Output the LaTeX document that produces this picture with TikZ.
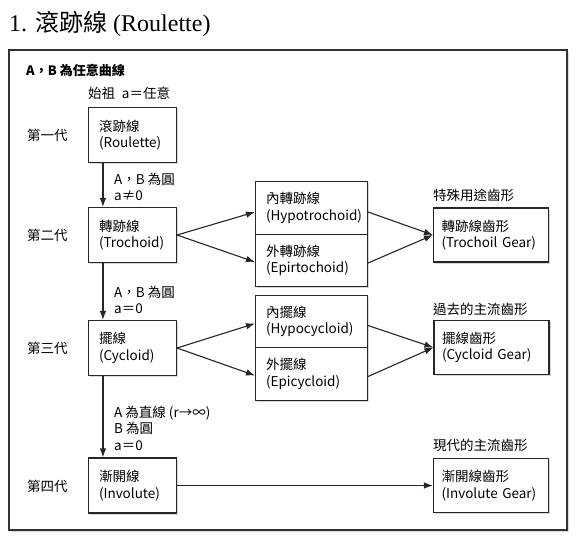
\documentclass[tikz,border=0pt]{standalone}
\usepackage{fontspec}
\setmainfont{Liberation Serif}
\newfontfamily\cjk{Noto Sans CJK TC}
\usetikzlibrary{arrows.meta,positioning,shadows}

\begin{document}
\begin{tikzpicture}[
    x=1pt, y=-1pt,
    font=\cjk\fontsize{13.5}{16.5}\selectfont,
    curve/.style={
        rectangle,
        draw=black!85,
        line width=1.1pt,
        fill=white,
        align=left,
        inner xsep=10.5pt,
        text width=67pt,
        minimum height=55pt,
        drop shadow={opacity=0.3, shadow xshift=1.5pt, shadow yshift=-1.5pt}
    },
    branch/.style={curve, text width=91pt, minimum height=52.5pt},
    gear/.style={curve, inner xsep=8pt, text width=99pt, minimum height=54pt},
    frame/.style={
        rectangle,
        draw=black!80,
        line width=1.1pt,
        fill=white,
        minimum width=558pt,
        minimum height=480pt,
        drop shadow={opacity=0.3, shadow xshift=1.5pt, shadow yshift=-1.5pt}
    },
    gen/.style={anchor=west, inner sep=0pt},
    cond/.style={anchor=north west, align=left, inner sep=0pt},
    flow/.style={-{Latex[length=9pt,width=6.5pt]}, line width=1.1pt, draw=black!85}
]
\useasboundingbox (0,0) rectangle (581,542);

\node[anchor=base west, inner sep=0pt, font=\fontsize{24}{28}\selectfont] (title) at (9,31)
    {1. {\cjk 滾跡線} (Roulette)};

\node[frame] (frame) at (288,290) {};

\node[gen, font=\cjk\bfseries\fontsize{13}{16.5}\selectfont] (cond0) at (26,70) {A，B 為任意曲線};
\node[gen] (origin) at (88,93) {始祖\enspace a＝任意};

% generations
\node[curve] (roul) at (132.5,135) {滾跡線\\(Roulette)};
\node[curve] (troch) at (132.5,235) {轉跡線\\(Trochoid)};
\node[curve] (cyc) at (132.5,348) {擺線\\(Cycloid)};
\node[curve] (inv) at (132.5,485.5) {漸開線\\(Involute)};

\node[gen] (g1) at (27,135) {第一代};
\node[gen] (g2) at (27,235) {第二代};
\node[gen] (g3) at (27,348) {第三代};
\node[gen] (g4) at (27,486) {第四代};

% branches
\node[branch] (hypotr) at (311.5,208) {內轉跡線\\(Hypotrochoid)};
\node[branch, below=-1.1pt of hypotr] (epitr) {外轉跡線\\(Epirtochoid)};
\node[branch] (hypoc) at (311.5,321.5) {內擺線\\(Hypocycloid)};
\node[branch, below=-1.1pt of hypoc] (epic) {外擺線\\(Epicycloid)};

% gears
\node[gear] (trgear) at (491,235) {轉跡線齒形\\(Trochoil Gear)};
\node[gear] (cycgear) at (491.5,347.5) {擺線齒形\\(Cycloid Gear)};
\node[gear] (invgear) at (491,485.5) {漸開線齒形\\(Involute Gear)};

\node[gen] (use1) at (433,195) {特殊用途齒形};
\node[gen] (use2) at (433,309) {過去的主流齒形};
\node[gen] (use3) at (433,445) {現代的主流齒形};

% conditions
\node[cond] (c1) at (114,172.5) {A，B 為圓\\a≠0};
\node[cond] (c2) at (114,285.5) {A，B 為圓\\a＝0};
\node[cond] (c3) at (114,405.5) {A 為直線 (r→∞)\\B 為圓\\a＝0};

\draw[flow] ([xshift=15pt]roul.south west) -- ([xshift=15pt]troch.north west);
\draw[flow] ([xshift=15pt]troch.south west) -- ([xshift=15pt]cyc.north west);
\draw[flow] ([xshift=15pt]cyc.south west) -- ([xshift=15pt]inv.north west);

\draw[flow] (troch.east) -- ([yshift=-4pt]hypotr.west);
\draw[flow] (troch.east) -- ([yshift=-1.5pt]epitr.west);
\draw[flow] ([yshift=-4pt]hypotr.east) -- (trgear.west);
\draw[flow] ([yshift=-2.5pt]epitr.east) -- (trgear.west);

\draw[flow] (cyc.east) -- ([yshift=-2pt]hypoc.west);
\draw[flow] (cyc.east) -- ([yshift=-1.5pt]epic.west);
\draw[flow] ([yshift=-4pt]hypoc.east) -- (cycgear.west);
\draw[flow] ([yshift=-2.5pt]epic.east) -- (cycgear.west);

\draw[flow] (inv.east) -- (invgear.west);

\end{tikzpicture}
\end{document}
